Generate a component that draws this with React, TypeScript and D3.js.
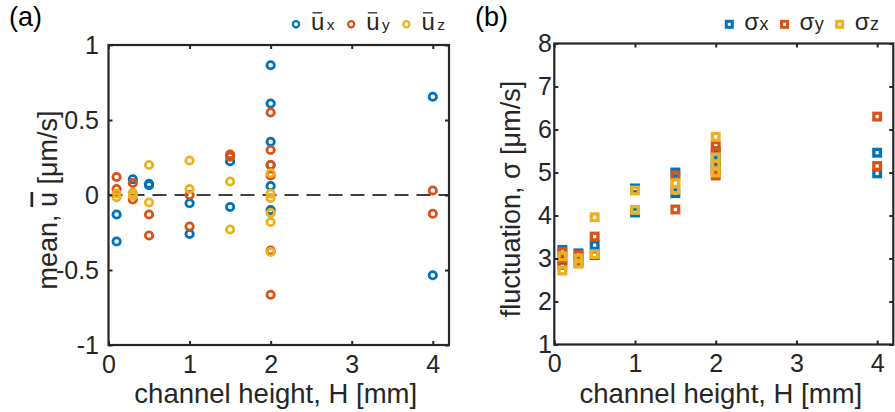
import React, { useEffect, useRef } from 'react';
import * as d3 from 'd3';

// channel height H [mm] vs. mean velocity components [um/s]
const meanUx: [number, number][] = [
  [0.1, -0.13], [0.1, -0.31],
  [0.3, 0.105],
  [0.5, 0.075], [0.5, 0.065],
  [1, -0.055], [1, -0.26],
  [1.5, 0.225], [1.5, -0.08],
  [2, 0.865], [2, 0.61], [2, 0.355], [2, 0.2], [2, 0.06], [2, -0.1],
  [4, 0.655], [4, -0.535],
];
const meanUy: [number, number][] = [
  [0.1, 0.12], [0.1, 0.04],
  [0.3, 0.08], [0.3, -0.03],
  [0.5, -0.13], [0.5, -0.27],
  [1, 0.0], [1, -0.21],
  [1.5, 0.27], [1.5, 0.255],
  [2, 0.55], [2, 0.3], [2, 0.2], [2, 0.13], [2, -0.37], [2, -0.665],
  [4, 0.03], [4, -0.125],
];
const meanUz: [number, number][] = [
  [0.1, 0.01], [0.1, -0.015],
  [0.3, 0.015], [0.3, -0.005],
  [0.5, 0.2], [0.5, -0.05],
  [1, 0.23], [1, 0.04],
  [1.5, 0.09], [1.5, -0.23],
  [2, 0.145], [2, 0.01], [2, -0.02], [2, -0.12], [2, -0.18], [2, -0.38],
];

// fluctuation components [um/s]
const sigmaX: [number, number][] = [
  [0.1, 3.2], [0.1, 2.97],
  [0.3, 3.12], [0.3, 2.95],
  [0.5, 3.31], [0.5, 3.08],
  [1, 4.63], [1, 4.07],
  [1.5, 5.0], [1.5, 4.52],
  [2, 5.42], [2, 5.24], [2, 5.12],
  [4, 5.46], [4, 4.98],
];
const sigmaY: [number, number][] = [
  [0.1, 3.15], [0.1, 2.85],
  [0.3, 3.08], [0.3, 2.9],
  [0.5, 3.51],
  [1.5, 4.93], [1.5, 4.14],
  [2, 5.62], [2, 5.5], [2, 5.06], [2, 4.93],
  [4, 6.3], [4, 5.15],
];
const sigmaZ: [number, number][] = [
  [0.1, 3.05], [0.1, 2.72],
  [0.3, 3.0], [0.3, 2.88],
  [0.5, 3.96], [0.5, 3.1],
  [1, 4.58], [1, 4.13],
  [1.5, 4.75], [1.5, 4.6],
  [2, 5.83], [2, 5.35], [2, 5.18], [2, 5.0],
];

const xTicks = [0, 1, 2, 3, 4];
const meanTicks = [-1, -0.5, 0, 0.5, 1];
const sigmaTicks = [1, 2, 3, 4, 5, 6, 7, 8];
const meanNames = ['x', 'y', 'z'];
const sigmaNames = ['x', 'y', 'z'];
const colors = ['#0072BD', '#D95319', '#EDB120'];

const FONT = '"Liberation Sans", Arial, Helvetica, sans-serif';
const AXIS = '#262626';

const App = () => {
  const ref = useRef<SVGSVGElement>(null);

  useEffect(() => {
    if (!ref.current) return;
    const svg = d3.select(ref.current);
    svg.selectAll('*').remove();

    const drawFrame = (x: any, y: any, yTicks: number[], yPad: number) => {
      const [xl, xr] = x.range();
      const [yb, yt] = y.range();
      const g = svg.append('g');
      const style = (a: any) => {
        a.select('.domain').remove();
        a.selectAll('line').attr('stroke', AXIS).attr('stroke-width', 2);
        a.selectAll('text').attr('fill', AXIS).attr('font-family', FONT).attr('font-size', 25);
      };
      g.append('g').attr('transform', `translate(0,${yb})`)
        .call(d3.axisBottom(x).tickValues(xTicks).tickSizeInner(-4).tickSizeOuter(0).tickPadding(10).tickFormat(d3.format('d')))
        .call(style);
      g.append('g').attr('transform', `translate(0,${yt})`)
        .call(d3.axisTop(x).tickValues(xTicks).tickSizeInner(-4).tickSizeOuter(0).tickFormat(() => ''))
        .call(style);
      g.append('g').attr('transform', `translate(${xl},0)`)
        .call(d3.axisLeft(y).tickValues(yTicks).tickSizeInner(-4).tickSizeOuter(0).tickPadding(yPad).tickFormat((d: any) => String(d)))
        .call(style);
      g.append('g').attr('transform', `translate(${xr},0)`)
        .call(d3.axisRight(y).tickValues(yTicks).tickSizeInner(-4).tickSizeOuter(0).tickFormat(() => ''))
        .call(style);
      g.append('rect')
        .attr('x', xl).attr('y', yt).attr('width', xr - xl).attr('height', yb - yt)
        .attr('fill', 'none').attr('stroke', AXIS).attr('stroke-width', 2.2);
      svg.append('text')
        .attr('x', (xl + xr) / 2 - 3).attr('y', 402.5)
        .attr('text-anchor', 'middle').attr('font-family', FONT).attr('font-size', 27.5).attr('fill', AXIS)
        .text('channel height, H [mm]');
    };

    const legend = (x0: number, names: string[], sym: string, square: boolean, subSize: number, subGap: number) => {
      names.forEach((n, i) => {
        const cx = x0 + i * 55.2;
        const cy = 24.3;
        if (square) {
          svg.append('rect').attr('x', cx - 3).attr('y', cy - 3).attr('width', 6).attr('height', 6)
            .attr('fill', 'none').attr('stroke', colors[i]).attr('stroke-width', 3);
        } else {
          svg.append('circle').attr('cx', cx).attr('cy', cy).attr('r', 3.1)
            .attr('fill', 'none').attr('stroke', colors[i]).attr('stroke-width', 2.2);
        }
        const tx = cx + 15;
        const t = svg.append('text').attr('x', tx).attr('y', 29.5)
          .attr('font-family', FONT).attr('font-size', 24).attr('fill', AXIS).text(sym);
        const w = (t.node() as SVGTextElement).getComputedTextLength();
        if (!square) {
          svg.append('line').attr('x1', tx + 1.6).attr('x2', tx + w - 2.4)
            .attr('y1', 12.8).attr('y2', 12.8).attr('stroke', AXIS).attr('stroke-width', 1.3);
        }
        svg.append('text').attr('x', tx + w + subGap).attr('y', 30)
          .attr('font-family', FONT).attr('font-size', subSize).attr('fill', AXIS).text(n);
      });
    };

    // ---- panel (a)
    const xa = d3.scaleLinear().domain([0, 4.2]).range([108.5, 449]);
    const ya = d3.scaleLinear().domain([-1, 1]).range([345, 45]);

    svg.append('line')
      .attr('x1', xa(0)).attr('x2', xa(4.2)).attr('y1', ya(0)).attr('y2', ya(0))
      .attr('stroke', '#000').attr('stroke-width', 1.6).attr('stroke-dasharray', '14,8');

    [meanUx, meanUy, meanUz].forEach((s, i) => {
      svg.append('g').selectAll('circle').data(s).join('circle')
        .attr('cx', d => xa(d[0])).attr('cy', d => ya(d[1])).attr('r', 3.7)
        .attr('fill', 'none').attr('stroke', colors[i]).attr('stroke-width', 2.8);
    });
    drawFrame(xa, ya, meanTicks, 9.5);

    const yla = svg.append('text')
      .attr('transform', 'translate(56.5,200) rotate(-90)')
      .attr('text-anchor', 'middle').attr('font-family', FONT).attr('font-size', 27).attr('fill', AXIS);
    yla.append('tspan').text('mean, ');
    yla.append('tspan').style('text-decoration', 'overline').text('u');
    yla.append('tspan').text(' [μm/s]');

    svg.append('text').attr('x', 9).attr('y', 26).attr('font-family', FONT).attr('font-size', 27)
      .attr('fill', '#000').text('(a)');
    legend(296, meanNames, 'u', false, 15.5, 2.5);

    // ---- panel (b)
    const xb = d3.scaleLinear().domain([0, 4.2]).range([554.3, 893.3]);
    const yb = d3.scaleLinear().domain([1, 8]).range([344.5, 43.5]);

    [sigmaX, sigmaY, sigmaZ].forEach((s, i) => {
      svg.append('g').selectAll('rect').data(s).join('rect')
        .attr('x', d => xb(d[0]) - 3.3).attr('y', d => yb(d[1]) - 3.3)
        .attr('width', 6.6).attr('height', 6.6)
        .attr('fill', 'none').attr('stroke', colors[i]).attr('stroke-width', 3.3);
    });
    drawFrame(xb, yb, sigmaTicks, 2.5);

    svg.append('text')
      .attr('transform', 'translate(520,199) rotate(-90)')
      .attr('text-anchor', 'middle').attr('font-family', FONT).attr('font-size', 27).attr('fill', AXIS)
      .text('fluctuation, σ [μm/s]');

    svg.append('text').attr('x', 475).attr('y', 26).attr('font-family', FONT).attr('font-size', 27)
      .attr('fill', '#000').text('(b)');
    legend(729.3, sigmaNames, 'σ', true, 18, 0.5);
  }, []);

  return (
    <svg
      ref={ref}
      width={895}
      height={412}
      style={{ position: 'absolute', left: 0, top: 0, background: '#fff' }}
    />
  );
};

export default App;
